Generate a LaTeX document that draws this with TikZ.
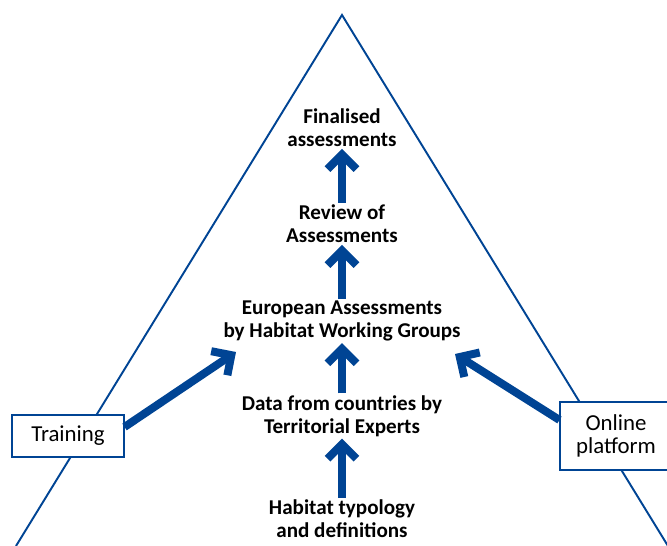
\documentclass[tikz,border=0pt]{standalone}
\usepackage{fontspec}
\setmainfont{Carlito}
\usetikzlibrary{arrows.meta}

\definecolor{ecblue}{HTML}{004494}

\begin{document}
\begin{tikzpicture}[x=0.02cm, y=-0.02cm,
    lbl/.style={align=center, font=\fontsize{12}{13}\selectfont\bfseries, inner sep=1pt},
    sidebox/.style={draw=ecblue, fill=white, line width=0.6pt, align=center,
        font=\fontsize{13}{13}\selectfont, inner sep=0pt},
    bigarrow/.style={draw=ecblue, line width=0.16cm, -{Straight Barb[length=2.9mm, width=5.8mm]}}]
    \useasboundingbox (0,0) rectangle (667,546);

    % Triangle
    \draw[ecblue, line width=1.1pt] (16,546) -- (342,15) -- (668,546);

    % Nodes
    \node (final) [lbl] at (342,128) {Finalised\\assessments};
    \node (review) [lbl] at (342,224) {Review of\\Assessments};
    \node (europe) [lbl] at (342,321) {European Assessments\\by Habitat Working Groups};
    \node (data) [lbl] at (342,416) {Data from countries by\\Territorial Experts};
    \node (habitat) [lbl] at (342,519) {Habitat typology\\and definitions};
    \node (training) [sidebox, minimum width=2.24cm, minimum height=0.84cm] at (68,436) {Training};
    \node (online) [sidebox, minimum width=2.24cm, minimum height=1.36cm] at (616,436) {Online\\platform};
    \coordinate (trainend) at (236,352);
    \coordinate (onlineend) at (455,354);

    % Arrows
    \draw[bigarrow] (habitat) -- (data);
    \draw[bigarrow] (data) -- (europe);
    \draw[bigarrow] (europe) -- (review);
    \draw[bigarrow] (review) -- (final);
    \draw[bigarrow] ([yshift=0.18cm]training.east) -- (trainend);
    \draw[bigarrow] ([yshift=0.32cm]online.west) -- (onlineend);
\end{tikzpicture}
\end{document}
